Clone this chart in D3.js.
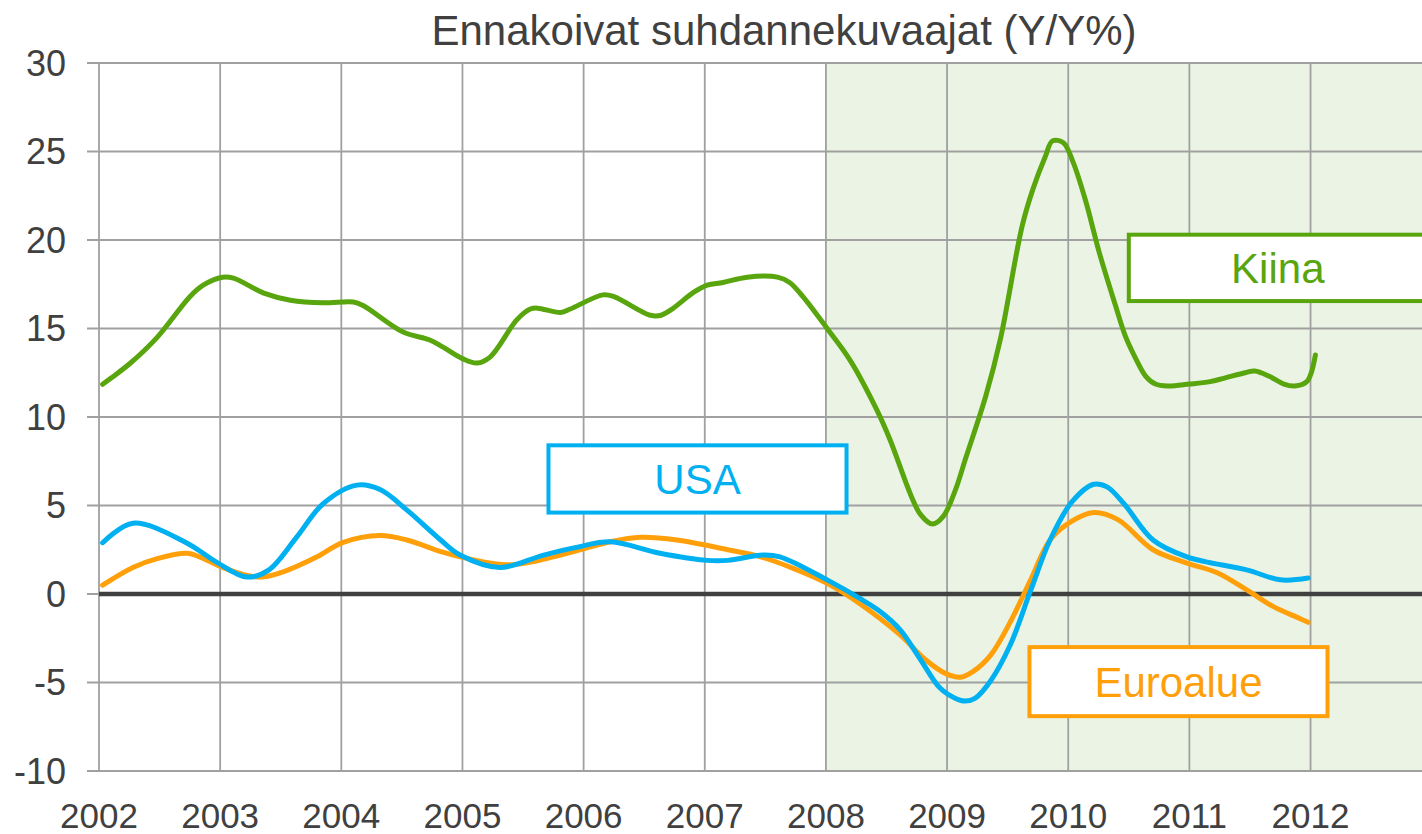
<!DOCTYPE html>
<html>
<head>
<meta charset="utf-8">
<script src="https://cdn.jsdelivr.net/npm/d3@7"></script>
<style>
  body { margin: 0; background: #fff; }
  svg { font-family: "Liberation Sans", Arial, sans-serif; }
</style>
</head>
<body>
<div id="chart"></div>
<script>
// year ticks and value ticks
var years = [2002, 2003, 2004, 2005, 2006, 2007, 2008, 2009, 2010, 2011, 2012];
var yTicks = [-10, -5, 0, 5, 10, 15, 20, 25, 30];

// [decimal year, Y/Y %]
var kiina = [
    [2002.03, 11.85], [2002.1, 12.2], [2002.26, 13.05], [2002.48, 14.5], [2002.75, 16.8],
    [2002.86, 17.45], [2003.02, 17.9], [2003.11, 17.85], [2003.36, 17.0], [2003.58, 16.6],
    [2003.85, 16.45], [2004.1, 16.5], [2004.18, 16.3], [2004.51, 14.8], [2004.73, 14.35],
    [2004.84, 13.95], [2005.0, 13.3], [2005.12, 13.05], [2005.23, 13.4], [2005.45, 15.5],
    [2005.56, 16.1], [2005.62, 16.15], [2005.81, 15.9], [2005.89, 16.1], [2006.16, 16.9],
    [2006.25, 16.8], [2006.55, 15.75], [2006.64, 15.75], [2006.72, 16.05], [2006.91, 17.05],
    [2007.02, 17.45], [2007.15, 17.6], [2007.35, 17.9], [2007.6, 17.9], [2007.7, 17.6],
    [2007.81, 16.8], [2008.01, 15.0], [2008.2, 13.2], [2008.42, 10.4], [2008.53, 8.7],
    [2008.7, 5.6], [2008.78, 4.5], [2008.88, 3.95], [2008.97, 4.4], [2009.07, 5.9],
    [2009.15, 7.6], [2009.32, 11.2], [2009.44, 14.4], [2009.62, 20.8], [2009.71, 22.9],
    [2009.81, 24.7], [2009.87, 25.6], [2009.96, 25.5], [2010.04, 24.4], [2010.14, 22.3],
    [2010.26, 19.2], [2010.39, 16.3], [2010.47, 14.6], [2010.55, 13.4], [2010.64, 12.3],
    [2010.72, 11.86], [2010.82, 11.75], [2011.0, 11.86], [2011.17, 12.0], [2011.29, 12.2],
    [2011.46, 12.5], [2011.54, 12.6], [2011.66, 12.3], [2011.78, 11.86], [2011.87, 11.75],
    [2011.97, 12.0], [2012.04, 13.5]
];

var usa = [
    [2002.03, 2.9], [2002.28, 4.0], [2002.72, 2.9], [2002.97, 1.8], [2003.22, 0.96],
    [2003.4, 1.35], [2003.63, 3.2], [2003.85, 5.1], [2004.13, 6.15], [2004.32, 5.9],
    [2004.54, 4.75], [2004.82, 3.05], [2004.98, 2.2], [2005.31, 1.5], [2005.67, 2.2],
    [2005.95, 2.65], [2006.22, 2.95], [2006.63, 2.3], [2007.02, 1.9], [2007.19, 1.9],
    [2007.48, 2.2], [2007.62, 2.1], [2008.01, 0.8], [2008.28, -0.25], [2008.45, -1.0],
    [2008.61, -2.0], [2008.78, -3.7], [2008.94, -5.3], [2009.07, -5.9], [2009.15, -6.05],
    [2009.23, -5.9], [2009.36, -4.9], [2009.52, -2.9], [2009.69, 0.2], [2009.85, 3.05],
    [2010.03, 5.2], [2010.21, 6.2], [2010.32, 6.05], [2010.46, 5.1], [2010.7, 3.05],
    [2010.98, 2.1], [2011.48, 1.35], [2011.75, 0.8], [2011.98, 0.9]
];

var euroalue = [
    [2002.03, 0.5], [2002.28, 1.5], [2002.48, 2.0], [2002.73, 2.3], [2002.83, 2.1],
    [2003.02, 1.5], [2003.22, 1.05], [2003.35, 0.96], [2003.52, 1.25], [2003.8, 2.1],
    [2004.01, 2.9], [2004.32, 3.3], [2004.54, 3.05], [2004.82, 2.4], [2004.98, 2.1],
    [2005.39, 1.65], [2005.81, 2.2], [2006.22, 2.95], [2006.47, 3.2], [2006.77, 3.05],
    [2007.19, 2.5], [2007.46, 2.1], [2007.73, 1.45], [2008.01, 0.6], [2008.28, -0.55],
    [2008.61, -2.3], [2008.82, -3.7], [2008.99, -4.5], [2009.11, -4.7],
    [2009.21, -4.4], [2009.36, -3.45], [2009.52, -1.6], [2009.69, 0.8], [2009.85, 3.05],
    [2010.02, 4.07], [2010.21, 4.6], [2010.41, 4.2], [2010.7, 2.5], [2010.98, 1.75],
    [2011.23, 1.2], [2011.48, 0.2], [2011.69, -0.7], [2011.9, -1.35], [2011.98, -1.6]
];

var width = 1422, height = 834;
var margin = { top: 63, right: 0, bottom: 63, left: 99 };

var svg = d3.select("#chart")
    .append("svg")
    .attr("width", width)
    .attr("height", height);

var x = d3.scaleLinear()
    .domain([2002, 2012.92])
    .range([margin.left, width - margin.right]);

var y = d3.scaleLinear()
    .domain([-10, 30])
    .range([height - margin.bottom, margin.top]);

// shaded period from 2008 on
svg.append("rect")
    .attr("x", x(2008))
    .attr("y", y(30))
    .attr("width", x.range()[1] - x(2008))
    .attr("height", y(-10) - y(30))
    .attr("fill", "#ebf4e4");

// grid
svg.selectAll("hgrid")
    .data(yTicks)
    .enter()
    .append("line")
    .attr("x1", margin.left - 12)
    .attr("x2", x.range()[1])
    .attr("y1", d => y(d))
    .attr("y2", d => y(d))
    .attr("stroke", "#a0a0a0")
    .attr("stroke-width", 1.8);

svg.selectAll("vgrid")
    .data(years)
    .enter()
    .append("line")
    .attr("x1", d => x(d))
    .attr("x2", d => x(d))
    .attr("y1", y(30))
    .attr("y2", y(-10))
    .attr("stroke", "#a0a0a0")
    .attr("stroke-width", 1.8);

// zero line
svg.append("line")
    .attr("x1", margin.left)
    .attr("x2", x.range()[1])
    .attr("y1", y(0))
    .attr("y2", y(0))
    .attr("stroke", "#404040")
    .attr("stroke-width", 4.5);

// tick labels
svg.selectAll("ylabels")
    .data(yTicks)
    .enter()
    .append("text")
    .attr("x", 66)
    .attr("y", d => y(d))
    .attr("dy", "0.36em")
    .attr("text-anchor", "end")
    .style("font-size", "36px")
    .style("fill", "#404040")
    .text(d => d);

svg.selectAll("xlabels")
    .data(years)
    .enter()
    .append("text")
    .attr("x", d => x(d))
    .attr("y", 828)
    .attr("text-anchor", "middle")
    .style("font-size", "35px")
    .style("fill", "#404040")
    .text(d => d);

svg.append("text")
    .attr("x", 784)
    .attr("y", 45)
    .attr("text-anchor", "middle")
    .style("font-size", "42px")
    .style("fill", "#404040")
    .text("Ennakoivat suhdannekuvaajat (Y/Y%)");

// series lines
var line = d3.line()
    .x(d => x(d[0]))
    .y(d => y(d[1]))
    .curve(d3.curveCatmullRom.alpha(0.5));

var series = [
    { name: "Euroalue", data: euroalue, color: "#ffa00a" },
    { name: "USA", data: usa, color: "#00b0f0" },
    { name: "Kiina", data: kiina, color: "#58a50e" }
];

series.forEach(s => {
    svg.append("path")
        .datum(s.data)
        .attr("d", line)
        .attr("fill", "none")
        .attr("stroke", s.color)
        .attr("stroke-width", 5)
        .attr("stroke-linejoin", "round")
        .attr("stroke-linecap", "round");
});

// label boxes, placed in data units
var boxes = [
    { name: "USA", color: "#00b0f0", x0: 2005.71, x1: 2008.17, y0: 8.4, y1: 4.6, tx: 2006.94 },
    { name: "Kiina", color: "#58a50e", x0: 2010.5, x1: 2013.0, y0: 20.3, y1: 16.55, tx: 2011.73 },
    { name: "Euroalue", color: "#ffa00a", x0: 2009.68, x1: 2012.14, y0: -3.0, y1: -6.9, tx: 2010.91 }
];

boxes.forEach(b => {
    svg.append("rect")
        .attr("x", x(b.x0))
        .attr("y", y(b.y0))
        .attr("width", x(b.x1) - x(b.x0))
        .attr("height", y(b.y1) - y(b.y0))
        .attr("fill", "#fff")
        .attr("stroke", b.color)
        .attr("stroke-width", 4);
    svg.append("text")
        .attr("x", x(b.tx))
        .attr("y", (y(b.y0) + y(b.y1)) / 2)
        .attr("dy", "0.36em")
        .attr("text-anchor", "middle")
        .style("font-size", "42px")
        .style("fill", b.color)
        .text(b.name);
});
</script>
</body>
</html>
